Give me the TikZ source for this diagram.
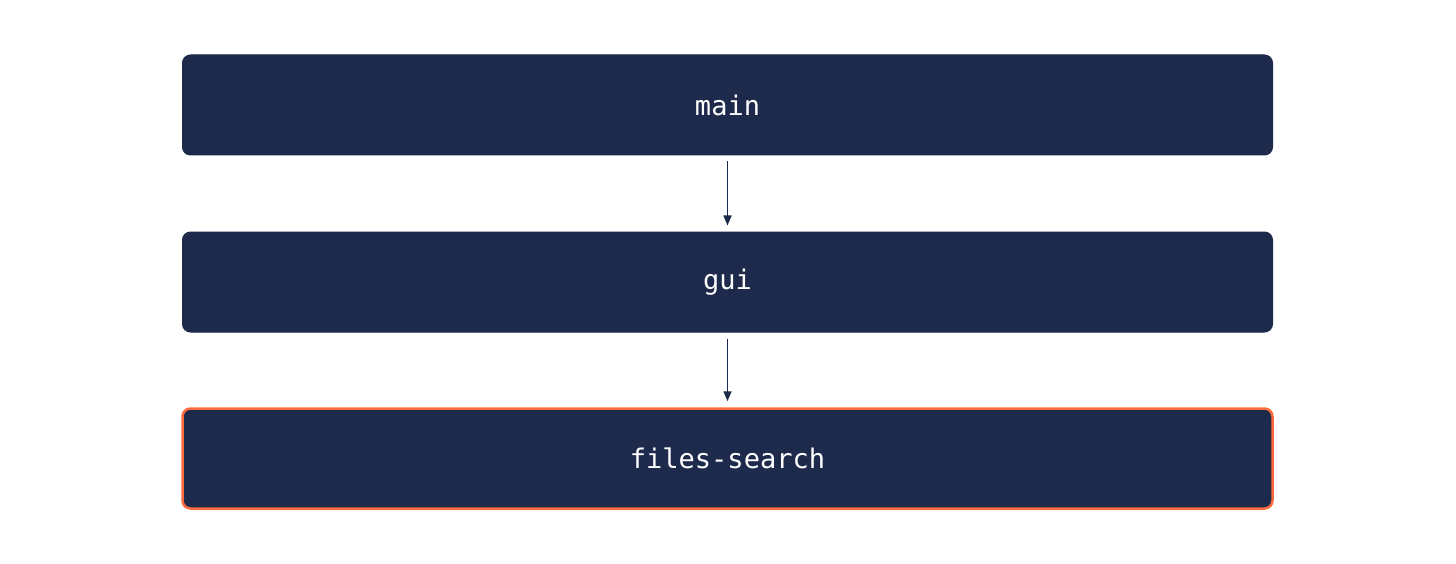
\documentclass[tikz,border=0pt]{standalone}
\usepackage{fontspec}
\setmonofont{DejaVu Sans Mono}
\usetikzlibrary{arrows.meta}
\definecolor{navy}{HTML}{1E2A4C}
\definecolor{accent}{HTML}{FF6B3D}
\begin{document}
\begin{tikzpicture}[x=1pt,y=-1pt,
  box/.style={rectangle,rounded corners=8pt,fill=navy,draw=navy,line width=1pt,minimum width=1090pt,minimum height=100pt,text=white,font=\ttfamily\fontsize{27}{30}\selectfont},
  arr/.style={draw=navy,line width=1.5pt,-{Triangle[length=10pt,width=8pt]}}]
\useasboundingbox[fill=white] (0,0) rectangle (1456,564);
\node[box] (main) at (727.5,105) {main};
\node[box] (gui) at (727.5,282) {gui};
\node[box,draw=accent,line width=2.5pt] (fs) at (727.5,458.5) {files-search};
\draw[arr] ([yshift=-6pt]main.south) -- ([yshift=6pt]gui.north);
\draw[arr] ([yshift=-6pt]gui.south) -- ([yshift=6pt]fs.north);
\end{tikzpicture}
\end{document}
